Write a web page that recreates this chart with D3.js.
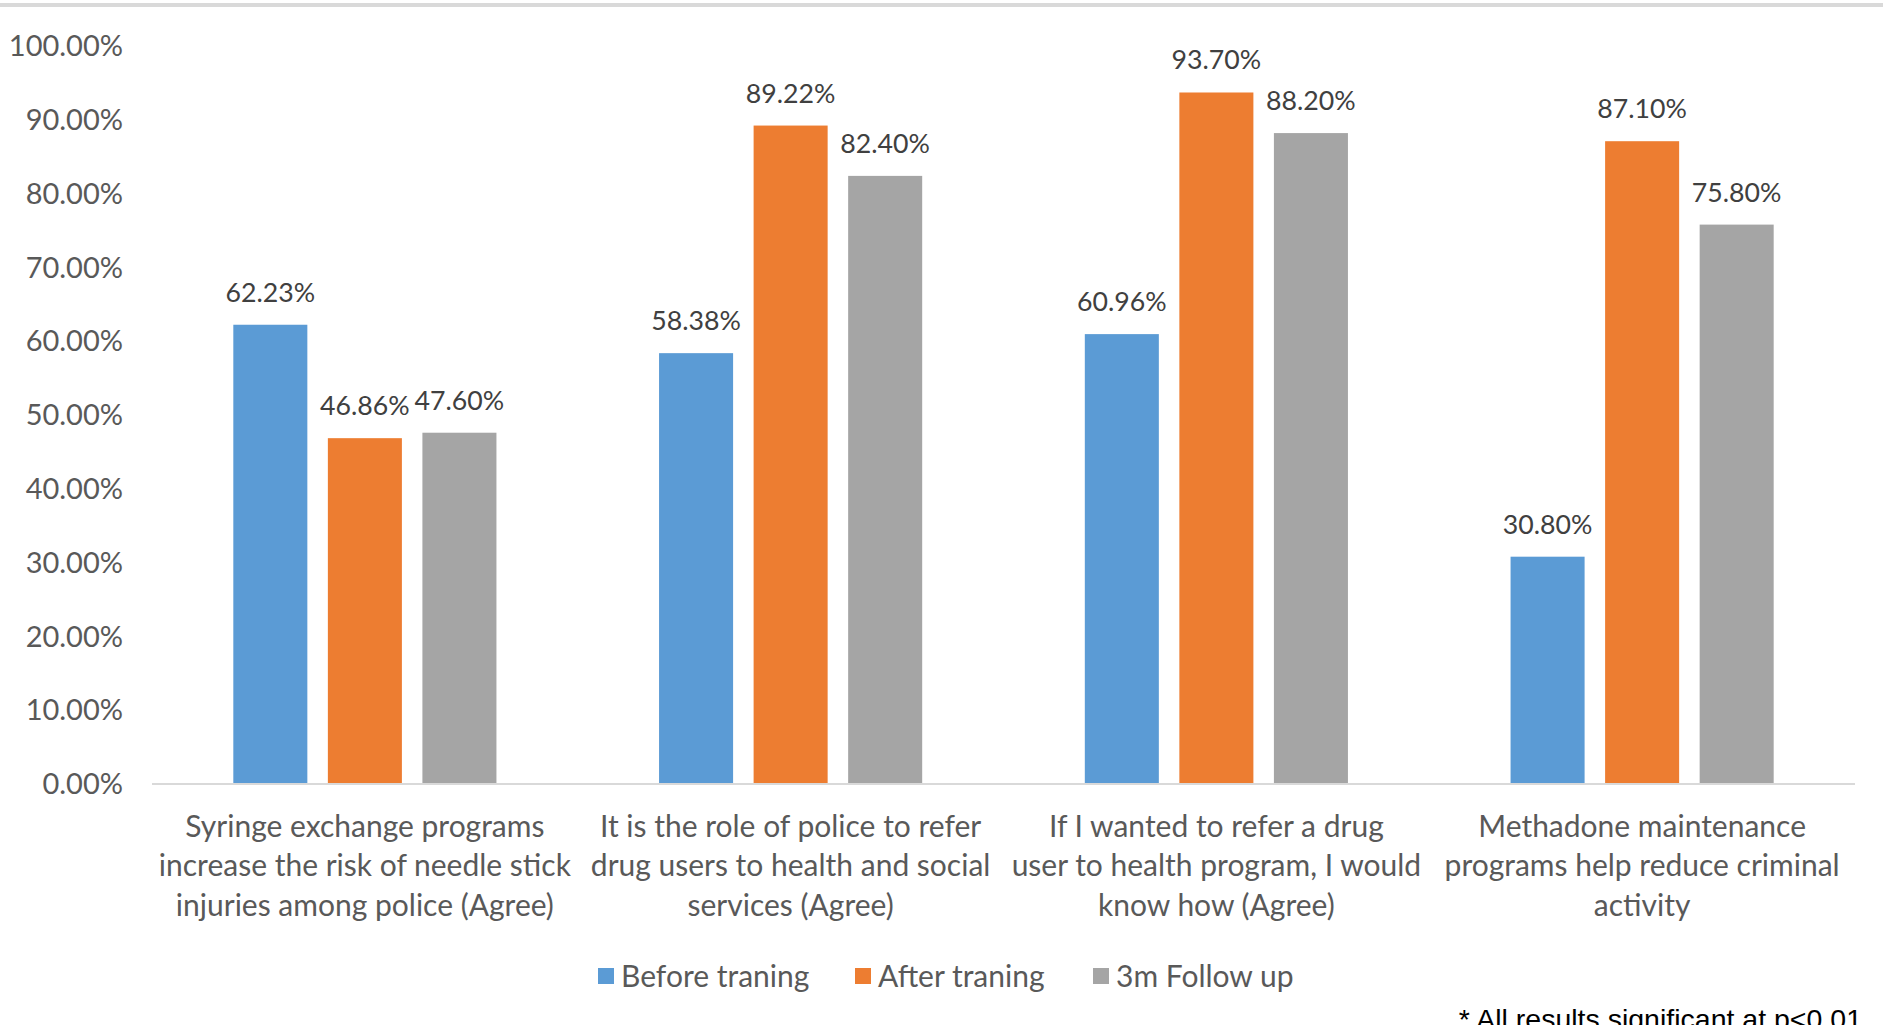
<!DOCTYPE html>
<html>
<head>
<meta charset="utf-8">
<script src="https://cdn.jsdelivr.net/npm/d3@7"></script>
<style>
  body { margin: 0; background: #fff; overflow: hidden; }
  text { font-family: Lato, "Open Sans", sans-serif; }
</style>
</head>
<body>
<div id="chart"></div>
<script>
// data
const categories = [
  ["Syringe exchange programs", "increase the risk of needle stick", "injuries among police (Agree)"],
  ["It is the role of police to refer", "drug users to health and social", "services (Agree)"],
  ["If I wanted to refer a drug", "user to health program, I would", "know how (Agree)"],
  ["Methadone maintenance", "programs help reduce criminal", "activity"]
]
const seriesNames = ["Before traning", "After traning", "3m Follow up"]
const beforeTraining = [62.23, 58.38, 60.96, 30.80]
const afterTraining = [46.86, 89.22, 93.70, 87.10]
const followUp = [47.60, 82.40, 88.20, 75.80]
const yTicks = [0, 10, 20, 30, 40, 50, 60, 70, 80, 90, 100]
const colors = ["#5B9BD5", "#ED7D31", "#A5A5A5"]

const width = 1883
const height = 1025

const svg = d3.select("#chart")
  .append("svg")
    .attr("width", width)
    .attr("height", height)

// top border
svg.append("rect")
  .attr("x", 0).attr("y", 3)
  .attr("width", width).attr("height", 4)
  .attr("fill", "#d9d9d9")

const plotLeft = 152, plotRight = 1855
const y = d3.scaleLinear().domain([0, 100]).range([784, 46])

const x0 = d3.scaleBand()
  .domain(d3.range(categories.length))
  .range([plotLeft, plotRight])

const x1 = d3.scaleBand()
  .domain(seriesNames)
  .range([0, x0.bandwidth()])
  .paddingInner(0.217)
  .paddingOuter(0.86)

// y axis labels
svg.append("g")
  .selectAll("text")
  .data(yTicks)
  .join("text")
    .attr("x", 123)
    .attr("y", d => y(d))
    .attr("dy", "0.35em")
    .attr("text-anchor", "end")
    .style("font-size", "29px")
    .style("fill", "#595959")
    .text(d => d.toFixed(2) + "%")

// rows of values per category
const rows = categories.map((c, i) => [beforeTraining[i], afterTraining[i], followUp[i]])

const groups = svg.append("g")
  .selectAll("g")
  .data(rows)
  .join("g")
    .attr("transform", (d, i) => `translate(${x0(i)},0)`)

groups.selectAll("rect")
  .data(d => d.map((v, j) => ({ key: seriesNames[j], value: v, j: j })))
  .join("rect")
    .attr("x", d => x1(d.key))
    .attr("y", d => y(d.value))
    .attr("width", x1.bandwidth())
    .attr("height", d => y(0) - y(d.value))
    .attr("fill", d => colors[d.j])

groups.selectAll("text.val")
  .data(d => d.map((v, j) => ({ key: seriesNames[j], value: v })))
  .join("text")
    .attr("class", "val")
    .attr("x", d => x1(d.key) + x1.bandwidth() / 2)
    .attr("y", d => y(d.value) - 23)
    .attr("text-anchor", "middle")
    .style("font-size", "26.7px")
    .style("fill", "#404040")
    .text(d => d.value.toFixed(2) + "%")

// x axis line
svg.append("line")
  .attr("x1", plotLeft).attr("x2", plotRight)
  .attr("y1", y(0)).attr("y2", y(0))
  .attr("stroke", "#d9d9d9")
  .attr("stroke-width", 2)

// category labels
const catLabels = svg.append("g")
  .selectAll("text")
  .data(categories)
  .join("text")
    .attr("text-anchor", "middle")
    .style("font-size", "30px")
    .style("fill", "#595959")

catLabels.selectAll("tspan")
  .data((d, i) => d.map(line => ({ line: line, i: i })))
  .join("tspan")
    .attr("x", d => x0(d.i) + x0.bandwidth() / 2)
    .attr("y", (d, k) => 826 + k * 39.6)
    .attr("dy", "0.35em")
    .text(d => d.line)

// legend
const legendX = [598, 855, 1093]
const legend = svg.append("g")
  .selectAll("g")
  .data(seriesNames)
  .join("g")
    .attr("transform", (d, i) => `translate(${legendX[i]},976)`)

legend.append("rect")
  .attr("x", 0).attr("y", -8)
  .attr("width", 16).attr("height", 16)
  .attr("fill", (d, i) => colors[i])

legend.append("text")
  .attr("x", 23)
  .attr("y", 0)
  .attr("dy", "0.35em")
  .style("font-size", "30px")
  .style("fill", "#595959")
  .text(d => d)

// footnote (cut at the bottom edge, as in the original)
svg.append("text")
  .attr("x", 1862)
  .attr("y", 1029)
  .attr("text-anchor", "end")
  .style("font-family", "'Liberation Sans', Arial, sans-serif")
  .style("font-size", "28.5px")
  .style("fill", "#000")
  .text("* All results significant at p<0.01")
</script>
</body>
</html>
